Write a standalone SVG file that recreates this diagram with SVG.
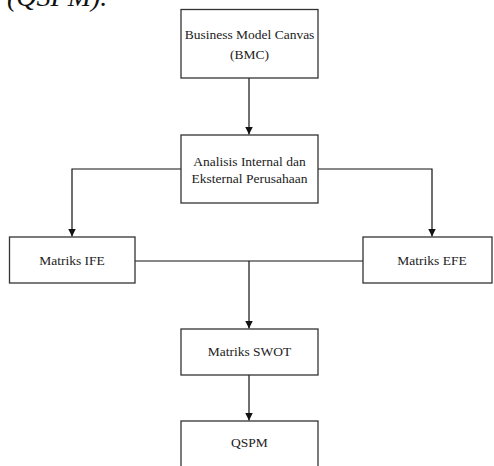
<svg xmlns="http://www.w3.org/2000/svg" width="494" height="466" viewBox="0 0 494 466">
  <style>
    .box { fill: #ffffff; stroke: #333333; stroke-width: 1.3; }
    .lbl { font-family: "Liberation Serif", "Times New Roman", serif; font-size: 13.5px; fill: #222222; text-anchor: middle; }
    .wire { fill: none; stroke: #111111; stroke-width: 1.2; }
    .cap { font-family: "Liberation Serif", "Times New Roman", serif; font-style: italic; font-size: 28px; fill: #111111; }
  </style>
  <defs>
    <marker id="arrow" viewBox="0 0 8 8" refX="8" refY="4" markerWidth="8" markerHeight="8" markerUnits="userSpaceOnUse" orient="auto">
      <path d="M0,0 L8,4 L0,8 Z" fill="#111111"/>
    </marker>
  </defs>
  <rect width="494" height="466" fill="#ffffff"/>

  <!-- caption fragment at the top edge -->
  <text class="cap" x="7" y="6">(QSPM).</text>

  <!-- connectors -->
  <g id="connectors">
    <path class="wire" d="M249,78 V134.5" marker-end="url(#arrow)"/>
    <path class="wire" d="M181,169 H72 V236.5" marker-end="url(#arrow)"/>
    <path class="wire" d="M318,169 H432 V236.5" marker-end="url(#arrow)"/>
    <path class="wire" d="M135,261 H363"/>
    <path class="wire" d="M249,261 V328.5" marker-end="url(#arrow)"/>
    <path class="wire" d="M249,375 V420.5" marker-end="url(#arrow)"/>
  </g>

  <g id="bmc">
    <rect class="box" x="181" y="9.5" width="137" height="68.5"/>
    <text class="lbl" x="249.5" y="39">Business Model Canvas</text>
    <text class="lbl" x="249.5" y="59">(BMC)</text>
  </g>

  <g id="analisis">
    <rect class="box" x="181" y="135" width="137" height="68"/>
    <text class="lbl" x="249.5" y="166">Analisis Internal dan</text>
    <text class="lbl" x="249.5" y="183">Eksternal Perusahaan</text>
  </g>

  <g id="ife">
    <rect class="box" x="9.5" y="237" width="125.5" height="46"/>
    <text class="lbl" x="72" y="265">Matriks IFE</text>
  </g>

  <g id="efe">
    <rect class="box" x="363" y="237" width="129" height="46"/>
    <text class="lbl" x="432" y="265">Matriks EFE</text>
  </g>

  <g id="swot">
    <rect class="box" x="181" y="329" width="137" height="46"/>
    <text class="lbl" x="249.5" y="356">Matriks SWOT</text>
  </g>

  <g id="qspm">
    <rect class="box" x="181" y="421" width="137" height="46"/>
    <text class="lbl" x="249.5" y="447">QSPM</text>
  </g>
</svg>
